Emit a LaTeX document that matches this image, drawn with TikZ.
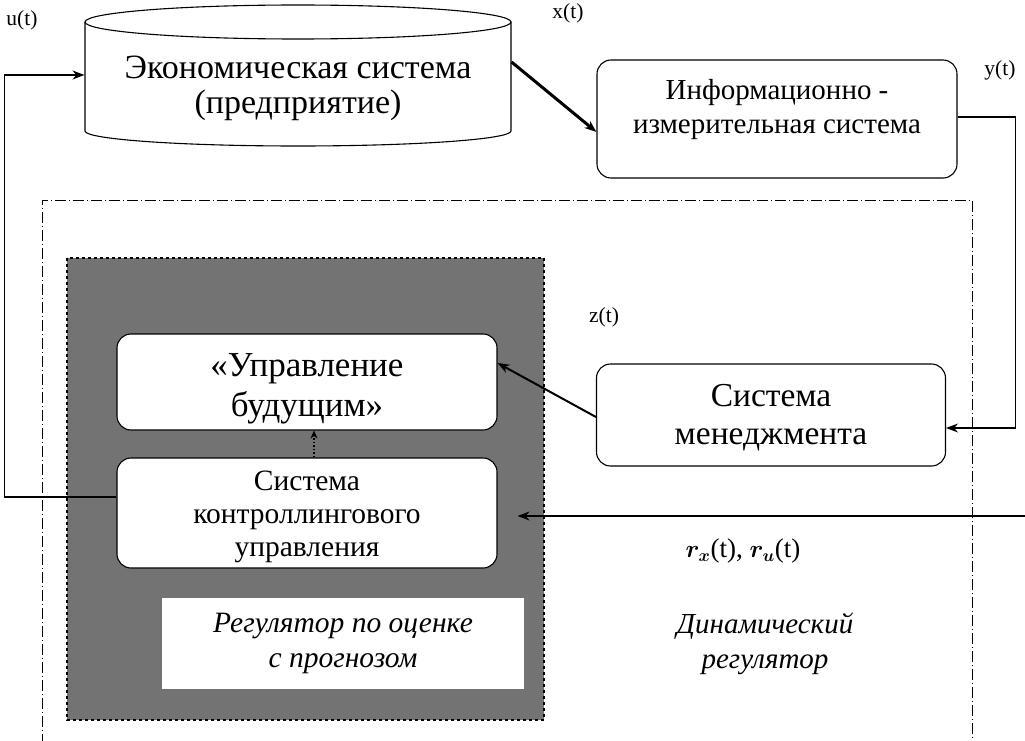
\documentclass[tikz,border=0pt]{standalone}
\usepackage{fontspec}
\usepackage{amsmath}
\usepackage{bm}
\setmainfont{Liberation Serif}
\usetikzlibrary{arrows.meta}

\begin{document}
\begin{tikzpicture}[x=1pt,y=-1pt,line width=1.1pt,
  box/.style={draw,rounded corners=14pt,fill=white},
  lbl/.style={font=\fontsize{21.5}{24}\selectfont},
  arr/.style={-{Stealth[length=12pt,width=9pt]}}]
  \useasboundingbox (0,0) rectangle (1025,741);

  % regulator frame and shaded block
  \draw[line width=0.8pt,dash pattern=on 11pt off 3pt on 1pt off 3pt] (42,745) -- (42,200) -- (972,200) -- (972,745);
  \fill[black!55] (67,258) rectangle (544,720);
  \draw[dashed] (67,258) rectangle (544,720);
  \node[fill=white,minimum width=362pt,minimum height=91pt,align=center,
        font=\itshape\fontsize{29.5}{35}\selectfont] (rp) at (343,643) {Регулятор по оценке\\с прогнозом};

  % cylinder
  \draw[fill=white] (85,22) -- (85,131) arc[start angle=180,end angle=0,x radius=213,y radius=15] -- (511,22);
  \draw (298,22) ellipse[x radius=213,y radius=17];
  \node[minimum width=426pt,align=center,font=\fontsize{34}{35}\selectfont] (econ) at (298,88) {Экономическая система\\(предприятие)};

  \node[box,minimum width=360pt,minimum height=118pt,
        label={[yshift=9pt,align=center,font=\fontsize{29}{34}\selectfont]center:Информационно -\\измерительная система}] (info) at (777,119) {};
  \node[box,minimum width=380pt,minimum height=96pt,
        label={[yshift=-7pt,align=center,font=\fontsize{35}{40}\selectfont]center:«Управление\\будущим»}] (upr) at (307,382) {};
  \node[box,minimum width=380pt,minimum height=110pt,
        label={[yshift=-4pt,align=center,font=\fontsize{29.5}{33}\selectfont]center:Система\\контроллингового\\управления}] (kontr) at (307,513) {};
  \node[box,minimum width=349pt,minimum height=102pt,
        label={[yshift=-3pt,align=center,font=\fontsize{33.5}{38}\selectfont]center:Система\\менеджмента}] (men) at (771,415) {};
  \node[align=center,font=\itshape\fontsize{29}{35}\selectfont] (din) at (765,644) {Динамический\\регулятор};

  % signals
  \node[lbl] (ut) at (22,20) {u(t)};
  \node[lbl] (xt) at (568,13) {x(t)};
  \node[lbl] (yt) at (1000,70) {y(t)};
  \node[lbl] (zt) at (604,317) {z(t)};
  \node[font=\fontsize{27}{30}\selectfont] (rt) at (743,551) {$\bm{r}_{\bm{x}}$(t), $\bm{r}_{\bm{u}}$(t)};

  \coordinate (rin) at (1025,516);
  \draw[arr,line width=3pt] ([yshift=26pt]econ.east) -- ([yshift=-13pt]info.west);
  \draw[arr] ([yshift=2pt]info.east) -- ++(58,0) |- ([yshift=-13pt]men.east);
  \draw[arr,line width=2pt] ([yshift=-2pt]men.west) -- ([yshift=19pt]upr.east);
  \draw[-{Stealth[length=8pt,width=7pt]},dotted,line width=1.5pt] ([xshift=7pt]kontr.north) -- ([xshift=7pt]upr.south);
  \draw[arr] ([yshift=16pt]kontr.west) -- ++(-112,0) |- ([yshift=13pt]econ.west);
  \draw[arr] (rin) -- ([xshift=20pt]kontr.east |- rin);
\end{tikzpicture}
\end{document}
